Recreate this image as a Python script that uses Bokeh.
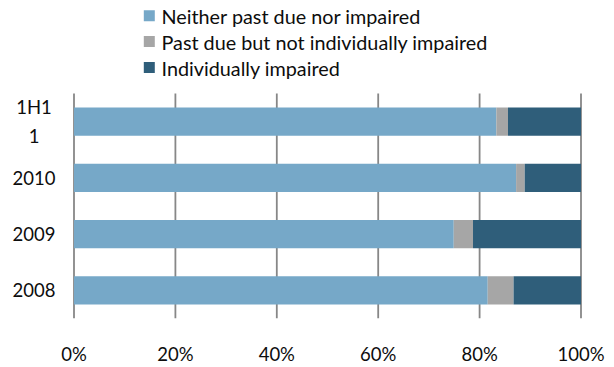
from bokeh.plotting import figure
from bokeh.models import ColumnDataSource, FixedTicker, CustomJSTickFormatter
from bokeh.core.properties import value
from bokeh.embed import file_html
from bokeh.resources import INLINE

# Loan quality breakdown, share of gross loans (%)
categories = ["2008", "2009", "2010", "1H11"]
category_labels = ["2008", "2009", "2010", "1H1\n1"]
neither = [81.6, 74.9, 87.2, 83.3]
past_due = [5.1, 3.8, 1.7, 2.3]
impaired = [13.3, 21.3, 11.1, 14.4]
series_names = ["Neither past due nor impaired",
                "Past due but not individually impaired",
                "Individually impaired"]
x_ticks = [0, 20, 40, 60, 80, 100]

colors = ["#76A8C8", "#A6A6A6", "#2F5E7A"]
FONT = "Lato"
FS = "18.5px"
LEG_FS = "19.8px"
TEXT_COLOR = "#0d0d0d"

W, H = 614, 367
AXIS_H = 42                    # room below the plot for the % labels
FRAME_H = H - AXIS_H
PX_PER_PCT = 5.07
X0_PX = 73.5                   # screen x of 0 %
X_START = -X0_PX / PX_PER_PCT
X_END = X_START + W / PX_PER_PCT
BAND_PX = 57.5                 # height of one category band
Y_START = -0.5
Y_END = Y_START + FRAME_H / BAND_PX

def xd(px):
    return X_START + px / PX_PER_PCT

def yd(py):
    return Y_START + (FRAME_H - py) / BAND_PX

p = figure(width=W, height=H, output_backend="svg", toolbar_location=None,
           x_range=(X_START, X_END), y_range=(Y_START, Y_END),
           min_border=0, min_border_bottom=AXIS_H, min_border_left=0,
           min_border_right=0, min_border_top=0)
p.outline_line_color = None
p.background_fill_color = "white"
p.border_fill_color = "white"
p.grid.visible = False
p.yaxis.visible = False

# percentage axis below
xa = p.xaxis[0]
xa.ticker = FixedTicker(ticks=x_ticks)
xa.formatter = CustomJSTickFormatter(code="return tick.toFixed(0) + '%';")
xa.axis_line_color = None
xa.major_tick_line_color = None
xa.minor_tick_line_color = None
xa.major_label_text_font = FONT
xa.major_label_text_font_size = FS
xa.major_label_text_color = TEXT_COLOR
xa.major_label_standoff = 18

n = len(categories)
ys = list(range(n))

# vertical gridlines spanning the category bands
p.segment(x0=x_ticks, x1=x_ticks, y0=[-0.5] * len(x_ticks), y1=[n - 0.5] * len(x_ticks),
          line_color="#878787", line_width=1.8)

src = ColumnDataSource(dict(y=ys, neither=neither, past_due=past_due, impaired=impaired))
p.hbar_stack(["neither", "past_due", "impaired"], y="y", height=0.5,
             color=colors, line_color=None, source=src)

# category labels left of the bars
p.text(x=[xd(33.5)] * n, y=ys, text=category_labels, text_align="center",
       text_baseline="middle", text_font=value(FONT), text_font_size=FS,
       text_color=TEXT_COLOR, text_line_height=1.3)

# legend block above the plot
leg_py = [15.5, 42, 68.5]
p.scatter(x=[xd(148.8)] * 3, y=[yd(v) for v in leg_py], marker="square", size=11,
          fill_color=colors, line_color=None)
p.text(x=[xd(161)] * 3, y=[yd(v) for v in leg_py], text=series_names,
       text_align="left", text_baseline="middle", text_font=value(FONT),
       text_font_size=LEG_FS, text_color=TEXT_COLOR)

open("out.html", "w").write(file_html(p, INLINE))
